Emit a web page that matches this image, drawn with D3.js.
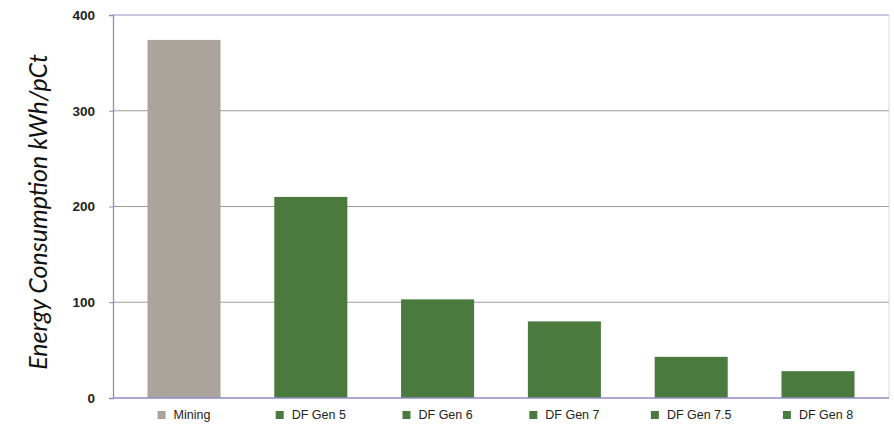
<!DOCTYPE html>
<html>
<head>
<meta charset="utf-8">
<script src="https://cdn.jsdelivr.net/npm/d3@7"></script>
<style>
  html, body { margin: 0; padding: 0; background: #ffffff; }
  svg { display: block; }
</style>
</head>
<body>
<div id="chart"></div>
<script>
// Energy consumption per category
const categories = ["Mining", "DF Gen 5", "DF Gen 6", "DF Gen 7", "DF Gen 7.5", "DF Gen 8"];
const energyValues = [374, 210, 103, 80, 43, 28];
const barColors = ["#aaa49d", "#4b7a3e", "#4b7a3e", "#4b7a3e", "#4b7a3e", "#4b7a3e"];
const yTicks = [0, 100, 200, 300, 400];
const yTitle = "Energy Consumption kWh/pCt";

const W = 894, H = 425;
const plot = { left: 113, right: 889, top: 15, bottom: 398 };

const svg = d3.select("#chart").append("svg")
  .attr("width", W).attr("height", H);

const x = d3.scaleBand()
  .domain(categories)
  .range([plot.left, plot.right])
  .paddingInner(0.424)
  .paddingOuter(0.272);

const y = d3.scaleLinear()
  .domain([0, 400])
  .range([plot.bottom, plot.top]);

// Horizontal gridlines
svg.append("g")
  .selectAll("line")
  .data(yTicks.filter(t => t > 0 && t < 400))
  .join("line")
  .attr("x1", plot.left).attr("x2", plot.right)
  .attr("y1", d => y(d)).attr("y2", d => y(d))
  .attr("stroke", "#a39a93").attr("stroke-width", 1.2);

// Top frame line and right border
svg.append("line")
  .attr("x1", plot.left).attr("x2", plot.right)
  .attr("y1", y(400)).attr("y2", y(400))
  .attr("stroke", "#8f93c4").attr("stroke-width", 1.2);
svg.append("line")
  .attr("x1", plot.right).attr("x2", plot.right)
  .attr("y1", y(400)).attr("y2", y(0))
  .attr("stroke", "#d8d6e4").attr("stroke-width", 1);

// Bars
svg.append("g")
  .selectAll("rect")
  .data(categories)
  .join("rect")
  .attr("x", d => x(d))
  .attr("width", x.bandwidth())
  .attr("y", (d, i) => y(energyValues[i]))
  .attr("height", (d, i) => y(0) - y(energyValues[i]))
  .attr("fill", (d, i) => barColors[i]);

// Y axis
const yAxis = svg.append("g")
  .attr("transform", `translate(${plot.left},0)`)
  .call(d3.axisLeft(y).tickValues(yTicks).tickSize(4).tickPadding(14));
yAxis.select(".domain").attr("stroke", "#8f8cc0").attr("stroke-width", 1.3);
yAxis.selectAll(".tick line").attr("stroke", "#8f8cc0");
yAxis.selectAll(".tick text")
  .attr("font-family", "Liberation Sans, Arial, sans-serif")
  .attr("font-size", 13.5).attr("font-weight", "bold").attr("fill", "#222");

// X axis baseline
svg.append("line")
  .attr("x1", plot.left).attr("x2", plot.right)
  .attr("y1", y(0)).attr("y2", y(0))
  .attr("stroke", "#8f8cc0").attr("stroke-width", 1.3);

// Y axis title
svg.append("text")
  .attr("transform", `translate(47,212) rotate(-90)`)
  .attr("text-anchor", "middle")
  .attr("font-family", "Lato, 'Open Sans', sans-serif")
  .attr("font-style", "italic")
  .attr("font-size", 25)
  .attr("fill", "#111")
  .text(yTitle);

// Legend under each bar
const legend = svg.append("g")
  .selectAll("g")
  .data(categories)
  .join("g")
  .attr("transform", d => `translate(${x(d) + x.bandwidth() / 2},415)`);

legend.each(function (d, i) {
  const g = d3.select(this);
  const t = g.append("text")
    .attr("font-family", "Liberation Sans, Arial, sans-serif")
    .attr("font-size", 12.5)
    .attr("fill", "#222")
    .attr("dy", "0.35em")
    .text(d);
  const tw = t.node().getComputedTextLength();
  const sw = 8, gap = 8;
  const total = sw + gap + tw;
  const start = -total / 2;
  g.insert("rect", "text")
    .attr("x", start).attr("y", -4)
    .attr("width", sw).attr("height", sw)
    .attr("fill", barColors[i]);
  t.attr("x", start + sw + gap);
});
</script>
</body>
</html>
